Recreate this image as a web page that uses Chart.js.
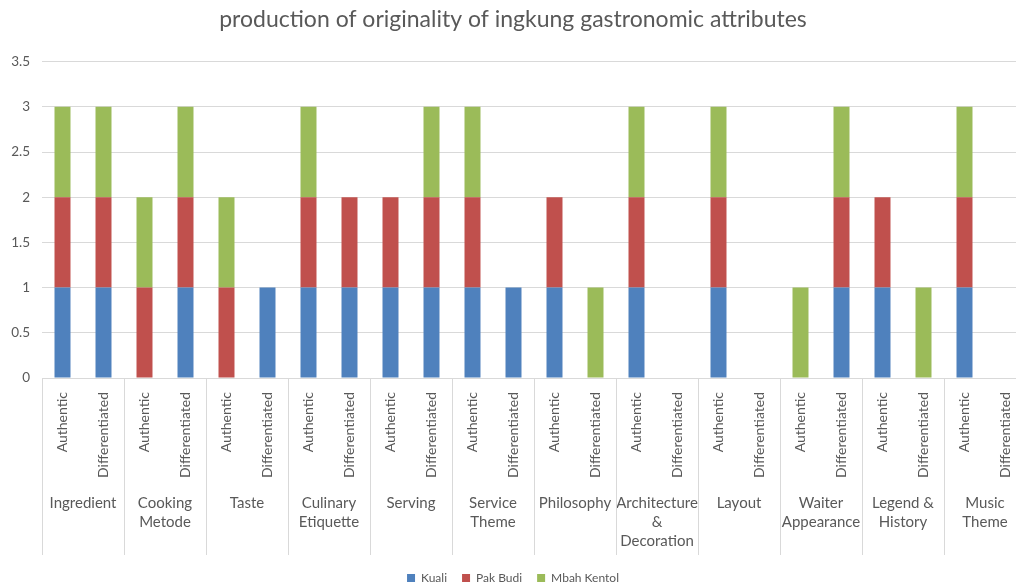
<!DOCTYPE html>
<html>
<head>
<meta charset="utf-8">
<script src="https://cdn.jsdelivr.net/npm/chart.js@4/dist/chart.umd.min.js"></script>
<style>
  html, body { margin: 0; padding: 0; overflow: hidden; background: #fff; }
  #wrap { width: 1040px; height: 594px; position: relative; }
</style>
</head>
<body>
<div id="wrap"><canvas id="c"></canvas></div>
<script>
// Attribute groups (two bars each: Authentic, Differentiated)
const groups = [
  'Ingredient', ['Cooking', 'Metode'], 'Taste', ['Culinary', 'Etiquette'], 'Serving',
  ['Service', 'Theme'], 'Philosophy', ['Architecture', '&', 'Decoration'], 'Layout',
  ['Waiter', 'Appearance'], ['Legend &', 'History'], ['Music', 'Theme']
];
const aspects = ['Authentic', 'Differentiated'];

// Bar labels: Authentic / Differentiated repeated for each group
const barLabels = groups.flatMap(() => aspects);

// Series values, one per bar (Authentic, Differentiated per group)
const kuali      = [1,1, 0,1, 0,1, 1,1, 1,1, 1,1, 1,0, 1,0, 1,0, 0,1, 1,0, 1,0];
const pakBudi    = [1,1, 1,1, 1,0, 1,1, 1,1, 1,0, 1,0, 1,0, 1,0, 0,1, 1,0, 1,0];
const mbahKentol = [1,1, 1,1, 1,0, 1,0, 0,1, 1,0, 0,1, 1,0, 1,0, 1,1, 0,1, 1,0];

const yMin = 0, yMax = 3.5, yStep = 0.5;

const txt = '#595959';
const gridColor = '#d9d9d9';
const FONT = 'Lato, "Open Sans", sans-serif';
const SEPARATOR_LENGTH = 177;

// Vertical separators between attribute groups, spanning both label rows
const groupSeparators = {
  id: 'groupSeparators',
  afterDraw(chart) {
    const x = chart.scales.x;
    const ctx = chart.ctx;
    const n = groups.length;
    ctx.save();
    ctx.strokeStyle = gridColor;
    ctx.lineWidth = 1;
    for (let i = 0; i <= n; i++) {
      const px = Math.round(x.left + i * (x.width / n)) + 0.5;
      ctx.beginPath();
      ctx.moveTo(px, x.top);
      ctx.lineTo(px, x.top + SEPARATOR_LENGTH);
      ctx.stroke();
    }
    ctx.restore();
  }
};

new Chart(document.getElementById('c'), {
  type: 'bar',
  data: {
    labels: barLabels,
    datasets: [
      { label: 'Kuali', data: kuali, backgroundColor: '#4F81BD' },
      { label: 'Pak Budi', data: pakBudi, backgroundColor: '#C0504D' },
      { label: 'Mbah Kentol', data: mbahKentol, backgroundColor: '#9BBB59' }
    ]
  },
  options: {
    responsive: true,
    maintainAspectRatio: false,
    animation: false,
    layout: { padding: { left: 0, right: 14, top: 0, bottom: 0 } },
    datasets: { bar: { barPercentage: 0.78, categoryPercentage: 0.5, borderWidth: 0 } },
    plugins: {
      title: {
        display: true,
        text: 'production of originality of ingkung gastronomic attributes',
        color: txt,
        font: { family: FONT, size: 23, weight: 'normal' },
        padding: { top: 6, bottom: 28 }
      },
      legend: {
        position: 'bottom',
        labels: {
          color: txt,
          font: { family: FONT, size: 12 },
          boxWidth: 8, boxHeight: 8,
          padding: 15
        }
      },
      tooltip: { enabled: false }
    },
    scales: {
      x: {
        stacked: true,
        grid: { display: false },
        border: { color: gridColor },
        ticks: {
          color: txt,
          font: { family: FONT, size: 14 },
          minRotation: 90, maxRotation: 90,
          autoSkip: false,
          padding: 6
        },
        afterFit(s) { s.height = 102; }
      },
      x2: {
        type: 'category',
        position: 'bottom',
        labels: groups,
        offset: true,
        grid: { display: false },
        border: { display: false },
        ticks: {
          color: txt,
          font: { family: FONT, size: 15, lineHeight: 1.27 },
          maxRotation: 0, minRotation: 0,
          autoSkip: false,
          padding: 6
        },
        afterFit(s) { s.height = 77; }
      },
      y: {
        stacked: true,
        min: yMin, max: yMax,
        border: { display: false },
        grid: { color: gridColor, drawTicks: false },
        ticks: {
          stepSize: yStep,
          color: txt,
          font: { family: FONT, size: 13.5 },
          padding: 12,
          callback: (v) => String(Number(v.toFixed(1)))
        },
        afterFit(s) { s.width = 42; }
      }
    }
  },
  plugins: [groupSeparators]
});
</script>
</body>
</html>
